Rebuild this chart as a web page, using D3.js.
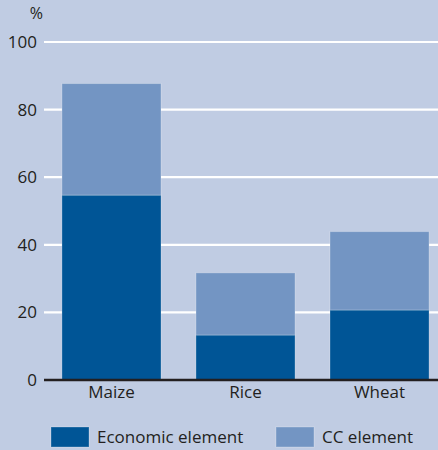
<!DOCTYPE html>
<html>
<head>
<meta charset="utf-8">
<script src="https://cdn.jsdelivr.net/npm/d3@7/dist/d3.min.js"></script>
<style>
  html, body { margin: 0; padding: 0; background: #c0cce3; }
  svg { display: block; }
  text { font-family: "Open Sans", "Noto Sans", sans-serif; fill: #231f20; }
</style>
</head>
<body>
<svg id="chart" width="438" height="450"></svg>
<script>
// Share of crop value (%) split into economic and CC elements
const categories = ["Maize", "Rice", "Wheat"];
const economic = [54.7, 13.3, 20.7];
const ccElement = [33.0, 18.4, 23.2];
const yTicks = [0, 20, 40, 60, 80, 100];
const seriesNames = ["Economic element", "CC element"];
const seriesColors = ["#005596", "#7395c3"];

const W = 438, H = 450;
const svg = d3.select("#chart");

const y = d3.scaleLinear().domain([0, 100]).range([380, 42]);
const x = d3.scaleBand().domain(categories).range([44, 447])
  .paddingInner(0.261).paddingOuter(0.134);

// gridlines
const grid = svg.append("g");
grid.selectAll("line").data(yTicks.filter(d => d > 0)).join("line")
  .attr("x1", 44).attr("x2", W)
  .attr("y1", d => y(d)).attr("y2", d => y(d))
  .attr("stroke", "#ffffff").attr("stroke-width", 2.2);

// stacked data
const rows = categories.map((c, i) => ({ cat: c, econ: economic[i], cc: ccElement[i] }));
const stack = d3.stack().keys(["econ", "cc"])(rows);

svg.append("g").selectAll("g").data(stack).join("g")
  .attr("fill", (d, i) => seriesColors[i])
  .selectAll("rect").data(d => d).join("rect")
  .attr("x", d => x(d.data.cat))
  .attr("width", x.bandwidth())
  .attr("y", d => y(d[1]))
  .attr("height", d => y(d[0]) - y(d[1]))
  .attr("stroke", "rgba(255,255,255,0.25)")
  .attr("stroke-width", 1);

// y axis labels
const yAxis = d3.axisLeft(y).tickValues(yTicks).tickSize(0).tickPadding(7);
const ya = svg.append("g").attr("transform", "translate(44,0)").call(yAxis);
ya.select(".domain").remove();
ya.selectAll("text").attr("font-size", 17).style("font-family", '"Open Sans", sans-serif').attr("fill", "#231f20");

svg.append("text").attr("x", 43).attr("y", 19).attr("text-anchor", "end")
  .attr("font-size", 16).text("%");

// baseline
svg.append("line").attr("x1", 44).attr("x2", W).attr("y1", y(0)).attr("y2", y(0))
  .attr("stroke", "#231f20").attr("stroke-width", 2.5);

// x axis labels
const xAxis = d3.axisBottom(x).tickSize(0).tickPadding(6);
const xa = svg.append("g").attr("transform", `translate(0,${y(0)})`).call(xAxis);
xa.select(".domain").remove();
xa.selectAll("text").attr("font-size", 17).style("font-family", '"Open Sans", sans-serif').attr("fill", "#231f20");

// legend
const legendX = [51, 276];
const lg = svg.append("g").selectAll("g").data(seriesNames).join("g")
  .attr("transform", (d, i) => `translate(${legendX[i]},427)`);
lg.append("rect").attr("width", 38).attr("height", 20)
  .attr("fill", (d, i) => seriesColors[i])
  .attr("stroke", "rgba(255,255,255,0.25)");
lg.append("text").attr("x", 46).attr("y", 16).attr("font-size", 17).text(d => d);
</script>
</body>
</html>
